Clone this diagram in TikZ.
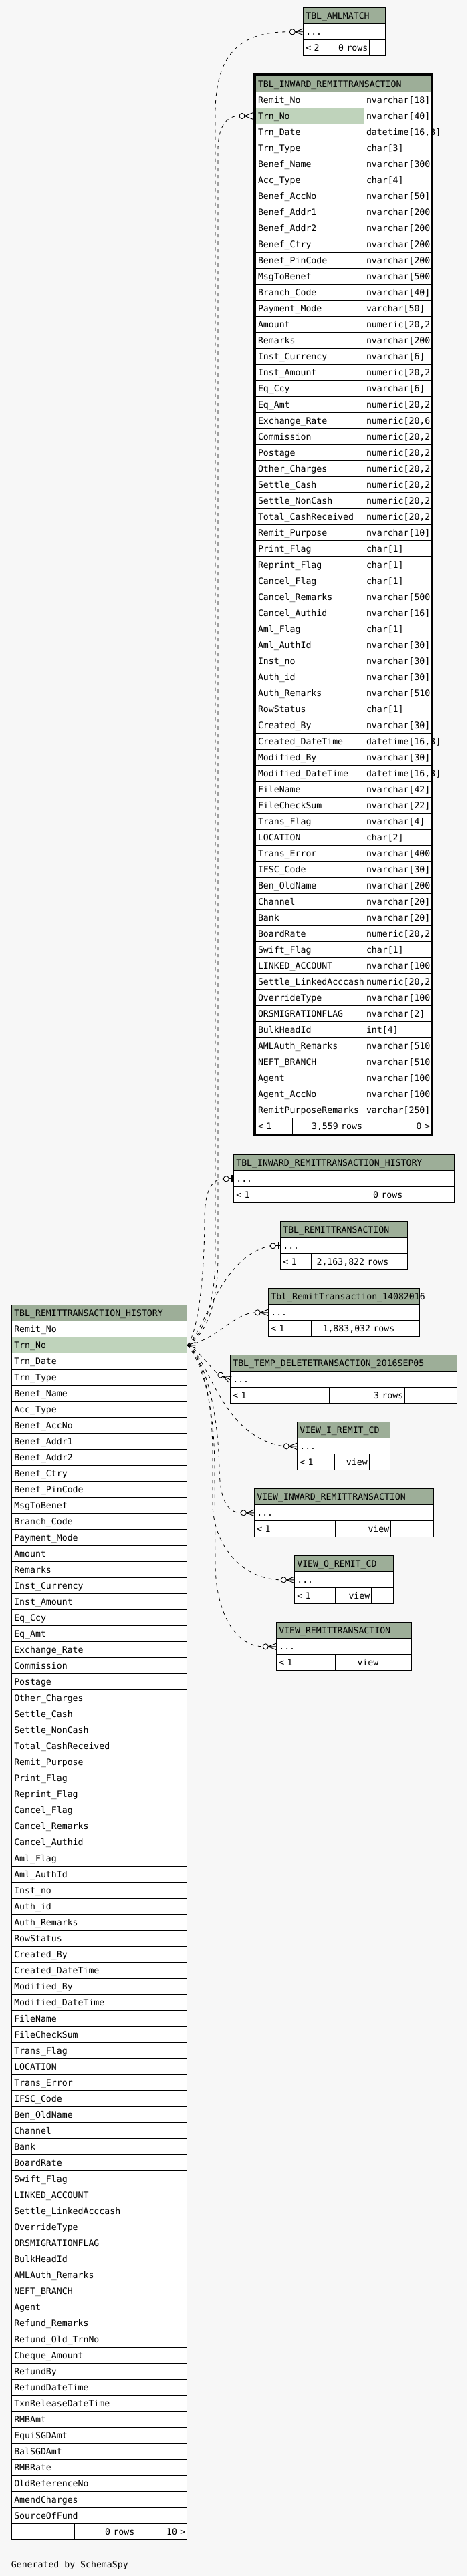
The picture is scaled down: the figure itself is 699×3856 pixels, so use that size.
\documentclass[tikz,border=0pt]{standalone}
\usepackage{fontspec}
\newfontfamily\schemafont{DejaVu Sans Mono}
\usepackage{tikz}
\usetikzlibrary{calc}
\hyphenpenalty=10000
\exhyphenpenalty=10000
\definecolor{pagebg}{HTML}{F7F7F7}
\definecolor{headgreen}{HTML}{9DAE98}
\definecolor{keygreen}{HTML}{BFD3BB}
\tikzset{
  every node/.style={font=\schemafont\fontsize{13.2}{15}\selectfont},
  cell/.style={draw, fill=white, line width=1pt, anchor=north west,
    minimum height=24pt, inner xsep=3.5pt, inner ysep=0pt,
    text height=9.5pt, text depth=0pt, text width=#1-7pt, align=left},
  headcell/.style={cell=#1, fill=headgreen},
  rcell/.style={cell=#1, inner xsep=2.5pt, text width=#1-5pt, align=right},
  keyfill/.code={\ifnum#1=2 \tikzset{fill=keygreen}\fi},
  relline/.style={line width=0.8pt, dash pattern=on 5pt off 6pt},
  crowodot/.pic={
    \draw (-12,0) -- (0,-4.7) (-12,0) -- (0,0) (-12,0) -- (0,4.7) (-16,0) -- (-12,0);
    \draw[fill=white] (-16,0) circle[radius=4pt];},
  barodot/.pic={
    \draw (-7,0) -- (0,0);
    \fill (-3.6,-5.5) rectangle (-1,5.5);
    \draw[fill=white] (-11,0) circle[radius=4pt];},
  tailfoot/.pic={
    \draw (1,0) -- (12,-4.5) (1,0) -- (12,0) (1,0) -- (12,4.5);},
  every pic/.style={line width=0.9pt},
}

\begin{document}
\begin{tikzpicture}[x=1pt,y=-1pt]
\useasboundingbox (0,0) rectangle (699,3856);
\fill[pagebg] (0,0) rectangle (699,3856);

%Shape: Table TBL_AMLMATCH
\node[headcell=122.4pt] (aml-head) at (453.3,11.3) {TBL\_AMLMATCH};
\node[cell=122.4pt] (aml-row) at (453.3,35.3) {...};
\node[cell=40pt] (aml-f1) at (453.3,59.3) {< 2};
\node[rcell=59pt] (aml-f2) at (493.3,59.3) {0 rows};
\node[cell=23.4pt] (aml-f3) at (552.3,59.3) {};

%Shape: Table TBL_INWARD_REMITTRANSACTION
\node[headcell=263pt] (inw-head) at (382,113) {TBL\_INWARD\_REMITTRANSACTION};
\foreach \fld/\typ [count=\i] in {Remit\_No/nvarchar[18], Trn\_No/nvarchar[40],
  Trn\_Date/{datetime[16,3]}, Trn\_Type/char[3], Benef\_Name/nvarchar[300,
  Acc\_Type/char[4], Benef\_AccNo/nvarchar[50], Benef\_Addr1/nvarchar[200,
  Benef\_Addr2/nvarchar[200, Benef\_Ctry/nvarchar[200, Benef\_PinCode/nvarchar[200,
  MsgToBenef/nvarchar[500, Branch\_Code/nvarchar[40], Payment\_Mode/varchar[50],
  Amount/{numeric[20,2}, Remarks/nvarchar[200, Inst\_Currency/nvarchar[6],
  Inst\_Amount/{numeric[20,2}, Eq\_Ccy/nvarchar[6], Eq\_Amt/{numeric[20,2},
  Exchange\_Rate/{numeric[20,6}, Commission/{numeric[20,2}, Postage/{numeric[20,2},
  Other\_Charges/{numeric[20,2}, Settle\_Cash/{numeric[20,2},
  Settle\_NonCash/{numeric[20,2}, Total\_CashReceived/{numeric[20,2},
  Remit\_Purpose/nvarchar[10], Print\_Flag/char[1], Reprint\_Flag/char[1],
  Cancel\_Flag/char[1], Cancel\_Remarks/nvarchar[500, Cancel\_Authid/nvarchar[16],
  Aml\_Flag/char[1], Aml\_AuthId/nvarchar[30], Inst\_no/nvarchar[30],
  Auth\_id/nvarchar[30], Auth\_Remarks/nvarchar[510, RowStatus/char[1],
  Created\_By/nvarchar[30], Created\_DateTime/{datetime[16,3]},
  Modified\_By/nvarchar[30], Modified\_DateTime/{datetime[16,3]},
  FileName/nvarchar[42], FileCheckSum/nvarchar[22], Trans\_Flag/nvarchar[4],
  LOCATION/char[2], Trans\_Error/nvarchar[400, IFSC\_Code/nvarchar[30],
  Ben\_OldName/nvarchar[200, Channel/nvarchar[20], Bank/nvarchar[20],
  BoardRate/{numeric[20,2}, Swift\_Flag/char[1], LINKED\_ACCOUNT/nvarchar[100,
  Settle\_LinkedAcccash/{numeric[20,2}, OverrideType/nvarchar[100,
  ORSMIGRATIONFLAG/nvarchar[2], BulkHeadId/int[4], AMLAuth\_Remarks/nvarchar[510,
  NEFT\_BRANCH/nvarchar[510, Agent/nvarchar[100, Agent\_AccNo/nvarchar[100,
  RemitPurposeRemarks/varchar[250]}{
  \node[cell=162pt, keyfill=\i] (inw-\i) at (382,113+24*\i) {\fld};
  \node[cell=101pt] (inwt-\i) at (544,113+24*\i) {\typ};
}
\node[cell=55pt] (inw-f1) at (382,1673) {< 1};
\node[rcell=107pt] (inw-f2) at (437,1673) {3,559 rows};
\node[rcell=101pt] (inw-f3) at (544,1673) {0 >};
\draw[line width=3.5pt] (380,111.5) rectangle (646.5,1698.5);

%Shape: Table TBL_INWARD_REMITTRANSACTION_HISTORY
\node[headcell=330pt] (hist-head) at (349.3,1728.3) {TBL\_INWARD\_REMITTRANSACTION\_HISTORY};
\node[cell=330pt] (hist-row) at (349.3,1752.3) {...};
\node[cell=144pt] (hist-f1) at (349.3,1776.3) {< 1};
\node[rcell=111pt] (hist-f2) at (493.3,1776.3) {0 rows};
\node[cell=75pt] (hist-f3) at (604.3,1776.3) {};

%Shape: Table TBL_REMITTRANSACTION
\node[headcell=190pt] (rem-head) at (419.3,1828.3) {TBL\_REMITTRANSACTION};
\node[cell=190pt] (rem-row) at (419.3,1852.3) {...};
\node[cell=46pt] (rem-f1) at (419.3,1876.3) {< 1};
\node[rcell=118pt] (rem-f2) at (465.3,1876.3) {2,163,822 rows};
\node[cell=26pt] (rem-f3) at (583.3,1876.3) {};

%Shape: Table Tbl_RemitTransaction_14082016
\node[headcell=226pt] (t14-head) at (401.3,1928.3) {Tbl\_RemitTransaction\_14082016};
\node[cell=226pt] (t14-row) at (401.3,1952.3) {...};
\node[cell=64pt] (t14-f1) at (401.3,1976.3) {< 1};
\node[rcell=127pt] (t14-f2) at (465.3,1976.3) {1,883,032 rows};
\node[cell=35pt] (t14-f3) at (592.3,1976.3) {};

%Shape: Table TBL_TEMP_DELETETRANSACTION_2016SEP05
\node[headcell=339pt] (temp-head) at (344.3,2028.3) {TBL\_TEMP\_DELETETRANSACTION\_2016SEP05};
\node[cell=339pt] (temp-row) at (344.3,2052.3) {...};
\node[cell=148pt] (temp-f1) at (344.3,2076.3) {< 1};
\node[rcell=113pt] (temp-f2) at (492.3,2076.3) {3 rows};
\node[cell=78pt] (temp-f3) at (605.3,2076.3) {};

%Shape: View VIEW_I_REMIT_CD
\node[headcell=139pt] (vi-head) at (444.3,2128.3) {VIEW\_I\_REMIT\_CD};
\node[cell=139pt] (vi-row) at (444.3,2152.3) {...};
\node[cell=56pt] (vi-f1) at (444.3,2176.3) {< 1};
\node[rcell=51.4pt] (vi-f2) at (500.3,2176.3) {view};
\node[cell=31.6pt] (vi-f3) at (551.7,2176.3) {};

%Shape: View VIEW_INWARD_REMITTRANSACTION
\node[headcell=268pt] (vin-head) at (380.3,2228.3) {VIEW\_INWARD\_REMITTRANSACTION};
\node[cell=268pt] (vin-row) at (380.3,2252.3) {...};
\node[cell=121pt] (vin-f1) at (380.3,2276.3) {< 1};
\node[rcell=83pt] (vin-f2) at (501.3,2276.3) {view};
\node[cell=64pt] (vin-f3) at (584.3,2276.3) {};

%Shape: View VIEW_O_REMIT_CD
\node[headcell=148pt] (vo-head) at (440.3,2328.3) {VIEW\_O\_REMIT\_CD};
\node[cell=148pt] (vo-row) at (440.3,2352.3) {...};
\node[cell=61pt] (vo-f1) at (440.3,2376.3) {< 1};
\node[rcell=54pt] (vo-f2) at (501.3,2376.3) {view};
\node[cell=33pt] (vo-f3) at (555.3,2376.3) {};

%Shape: View VIEW_REMITTRANSACTION
\node[headcell=202pt] (vr-head) at (413.3,2428.3) {VIEW\_REMITTRANSACTION};
\node[cell=202pt] (vr-row) at (413.3,2452.3) {...};
\node[cell=88pt] (vr-f1) at (413.3,2476.3) {< 1};
\node[rcell=67pt] (vr-f2) at (501.3,2476.3) {view};
\node[cell=47pt] (vr-f3) at (568.3,2476.3) {};

%Shape: Table TBL_REMITTRANSACTION_HISTORY
\node[headcell=262pt] (lh-head) at (17.3,1953.3) {TBL\_REMITTRANSACTION\_HISTORY};
\foreach \fld [count=\i] in {Remit\_No, Trn\_No, Trn\_Date, Trn\_Type, Benef\_Name,
  Acc\_Type, Benef\_AccNo, Benef\_Addr1, Benef\_Addr2, Benef\_Ctry, Benef\_PinCode,
  MsgToBenef, Branch\_Code, Payment\_Mode, Amount, Remarks, Inst\_Currency,
  Inst\_Amount, Eq\_Ccy, Eq\_Amt, Exchange\_Rate, Commission, Postage,
  Other\_Charges, Settle\_Cash, Settle\_NonCash, Total\_CashReceived,
  Remit\_Purpose, Print\_Flag, Reprint\_Flag, Cancel\_Flag, Cancel\_Remarks,
  Cancel\_Authid, Aml\_Flag, Aml\_AuthId, Inst\_no, Auth\_id, Auth\_Remarks,
  RowStatus, Created\_By, Created\_DateTime, Modified\_By, Modified\_DateTime,
  FileName, FileCheckSum, Trans\_Flag, LOCATION, Trans\_Error, IFSC\_Code,
  Ben\_OldName, Channel, Bank, BoardRate, Swift\_Flag, LINKED\_ACCOUNT,
  Settle\_LinkedAcccash, OverrideType, ORSMIGRATIONFLAG, BulkHeadId,
  AMLAuth\_Remarks, NEFT\_BRANCH, Agent, Refund\_Remarks, Refund\_Old\_TrnNo,
  Cheque\_Amount, RefundBy, RefundDateTime, TxnReleaseDateTime, RMBAmt,
  EquiSGDAmt, BalSGDAmt, RMBRate, OldReferenceNo, AmendCharges, SourceOfFund}{
  \node[cell=262pt, keyfill=\i] (lh-\i) at (17.3,1953.3+24*\i) {\fld};
}
\node[cell=94pt] (lh-f1) at (17.3,3777.3) {};
\node[rcell=92pt] (lh-f2) at (111.3,3777.3) {0 rows};
\node[rcell=76pt] (lh-f3) at (203.3,3777.3) {10 >};

% Text Node
\node[anchor=base west, inner sep=0pt] (credit) at (16.7,3843) {Generated by SchemaSpy};

% connector ends
\coordinate (aml-in) at ([xshift=-20pt]aml-row.west);
\coordinate (inw-in) at ([xshift=-24pt]inw-2.west);
\coordinate (hist-in) at ([xshift=-15pt]hist-row.west);
\coordinate (rem-in) at ([xshift=-15pt]rem-row.west);
\coordinate (t14-in) at ([xshift=-20pt]t14-row.west);
\coordinate (temp-in) at ([shift={(-18.1pt,8.5pt)}]temp-row.west);
\coordinate (vi-in) at ([xshift=-20pt]vi-row.west);
\coordinate (vin-in) at ([xshift=-20pt]vin-row.west);
\coordinate (vo-in) at ([xshift=-20pt]vo-row.west);
\coordinate (vr-in) at ([xshift=-20pt]vr-row.west);

%Curve Lines
\draw[relline] (lh-2.east) .. controls (300,2000) and (322,1960) .. (322,1880) -- (322,170) .. controls (322,80) and (360,47) .. (aml-in);
\draw[relline] (lh-2.east) .. controls (305,2000) and (326,1960) .. (326,1880) -- (326,225) .. controls (326,190) and (338,173) .. (inw-in);
\draw[relline] (lh-2.east) .. controls (298,1990) and (306,1900) .. (306,1820) .. controls (307,1780) and (318,1765) .. (hist-in);
\draw[relline] (lh-2.east) .. controls (305,1995) and (330,1880) .. (rem-in);
\draw[relline] (lh-2.east) .. controls (325,2005) and (350,1966) .. (t14-in);
\draw[relline] (lh-2.east) .. controls (298,2022) and (312,2045) .. (temp-in);
\draw[relline] (lh-2.east) .. controls (315,2035) and (330,2150) .. (vi-in);
\draw[relline] (lh-2.east) .. controls (312,2040) and (327,2130) .. (328,2200) .. controls (329,2245) and (340,2264) .. (vin-in);
\draw[relline] (lh-2.east) .. controls (305,2035) and (318,2100) .. (318,2180) -- (318,2250) .. controls (318,2310) and (360,2364) .. (vo-in);
\draw[relline] (lh-2.east) .. controls (302,2040) and (321,2100) .. (321,2200) -- (322,2340) .. controls (322,2410) and (350,2464) .. (vr-in);

%Shape: relation ends
\pic at (aml-row.west) {crowodot};
\pic at ([xshift=-4pt]inw-2.west) {crowodot};
\pic at (hist-row.west) {barodot};
\pic at (rem-row.west) {barodot};
\pic at (t14-row.west) {crowodot};
\pic[rotate=-25] at (temp-row.west) {crowodot};
\pic at (vi-row.west) {crowodot};
\pic at (vin-row.west) {crowodot};
\pic at (vo-row.west) {crowodot};
\pic at (vr-row.west) {crowodot};
\pic at (lh-2.east) {tailfoot};

\end{tikzpicture}
\end{document}
